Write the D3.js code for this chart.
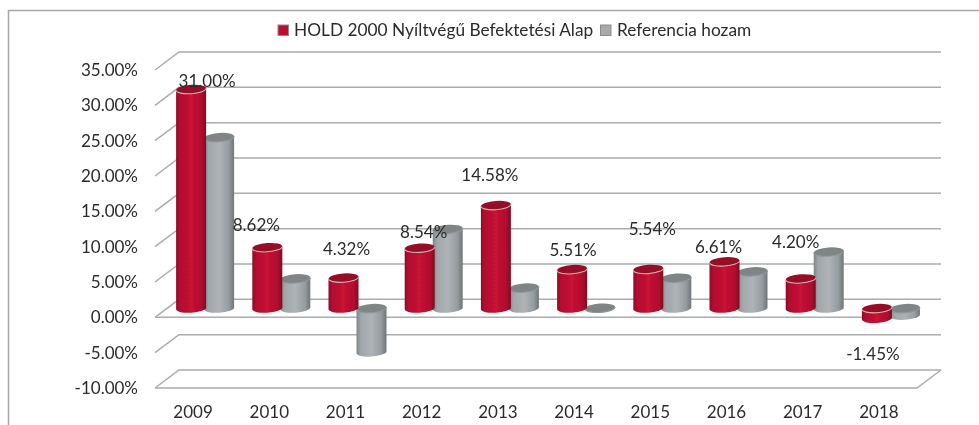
<!DOCTYPE html>
<html>
<head>
<meta charset="utf-8">
<script src="https://cdn.jsdelivr.net/npm/d3@7"></script>
<style>
    html, body { margin: 0; padding: 0; background: #fff; }
    svg { display: block; }
    text { font-family: Lato, "Open Sans", sans-serif; fill: #2b2b2b; }
</style>
</head>
<body>
<div id="chart"></div>
<script>
// values
const years = ["2009", "2010", "2011", "2012", "2013", "2014", "2015", "2016", "2017", "2018"];
const holdValues = [31.00, 8.62, 4.32, 8.54, 14.58, 5.51, 5.54, 6.61, 4.20, -1.45];
const refValues = [24.2, 4.2, -6.2, 11.2, 2.9, 0.05, 4.3, 5.2, 8.0, -1.0];
const valueTicks = [-10, -5, 0, 5, 10, 15, 20, 25, 30, 35];
const seriesNames = ["HOLD 2000 Nyíltvégű Befektetési Alap", "Referencia hozam"];

const width = 979, height = 425;

const svg = d3.select("#chart").append("svg")
    .attr("width", width)
    .attr("height", height);

const defs = svg.append("defs");

// the reference is a soft, slightly blurred image
defs.append("filter").attr("id", "soft")
    .append("feGaussianBlur").attr("stdDeviation", 0.45);

// side shading of the cylinders
function cylinderGradient(id, stops) {
    const g = defs.append("linearGradient").attr("id", id);
    stops.forEach(s => g.append("stop").attr("offset", s[0]).attr("stop-color", s[1]));
}
cylinderGradient("redSide", [[0, "#8c0a26"], [0.12, "#b20f30"], [0.5, "#c61234"], [0.85, "#b00e2e"], [1, "#7d0a22"]]);
cylinderGradient("greySide", [[0, "#7f8587"], [0.15, "#a0a6a9"], [0.5, "#adb3b6"], [0.82, "#969c9f"], [1, "#6f7577"]]);

const root = svg.append("g").attr("filter", "url(#soft)");

// outer frame: only left and top show, both run off the picture
root.append("path")
    .attr("d", `M8.5,${height} V10.5 H${width + 2}`)
    .attr("fill", "none")
    .attr("stroke", "#a6a6a6")
    .attr("stroke-width", 1.5);

// scales for the front plane of the 3D box
const plotLeft = 155, plotRight = 917;
const depthX = 24, depthY = -18;

const x = d3.scaleBand().domain(years).range([plotLeft, plotRight]);
const y = d3.scaleLinear().domain([-10, 35]).range([388, 70]);

// grid lines: side wall and back wall
const grid = root.append("g")
    .attr("fill", "none")
    .attr("stroke", "#a9adad")
    .attr("stroke-width", 1.5);

grid.selectAll("path")
    .data(valueTicks)
    .enter().append("path")
    .attr("d", d => {
        const yy = y(d);
        return `M${plotLeft},${yy} L${plotLeft + depthX},${yy + depthY} H${plotRight + depthX}`;
    });

// floor of the box
grid.append("path")
    .attr("d", `M${plotLeft},${y(-10)} H${plotRight} L${plotRight + depthX},${y(-10) + depthY}`);
grid.append("path")
    .attr("d", `M${plotLeft},${y(0)} H${plotRight}`);

// value axis labels
root.append("g").selectAll("text")
    .data(valueTicks)
    .enter().append("text")
    .attr("x", 138)
    .attr("y", d => y(d))
    .attr("dy", "0.35em")
    .attr("text-anchor", "end")
    .attr("font-size", 17)
    .text(d => percent(d));

// year labels
root.append("g").selectAll("text")
    .data(years)
    .enter().append("text")
    .attr("x", d => x(d) + x.bandwidth() / 2)
    .attr("y", 412)
    .attr("dy", "0.35em")
    .attr("text-anchor", "middle")
    .attr("font-size", 17)
    .text(d => d);

// plain hyphen for negatives, like the original
function percent(v) {
    return v.toFixed(2) + "%";
}

// cylinders stand in the middle of the box depth
const barDepthX = depthX / 2, barDepthY = depthY / 2;
const barR = 15, barRy = 4.4, tilt = 1, tiltDeg = -4;
const barGap = 14;

function drawCylinder(g, cx, value, side, topFill, rim) {
    const y0 = y(0) + barDepthY;
    const y1 = y(value) + barDepthY;
    const upper = Math.min(y0, y1), lower = Math.max(y0, y1);
    const xl = cx - barR, xr = cx + barR;
    const arc = `A${barR},${barRy} ${tiltDeg}`;
    // body
    g.append("path")
        .attr("d", `M${xl},${upper + tilt} V${lower + tilt} ${arc} 0 0 ${xr},${lower - tilt} V${upper - tilt} ${arc} 0 1 ${xl},${upper + tilt} Z`)
        .attr("fill", `url(#${side})`);
    // top ellipse, a little tilted
    g.append("path")
        .attr("d", `M${xl},${upper + tilt} ${arc} 0 1 ${xr},${upper - tilt} ${arc} 0 1 ${xl},${upper + tilt} Z`)
        .attr("fill", topFill);
    // pale rim along the near edge of the top
    g.append("path")
        .attr("d", `M${xl},${upper + tilt} ${arc} 0 0 ${xr},${upper - tilt}`)
        .attr("fill", "none")
        .attr("stroke", rim)
        .attr("stroke-width", 1.1);
}

const bars = root.append("g");
years.forEach((yr, i) => {
    const center = x(yr) + x.bandwidth() / 2 + barDepthX;
    const g = bars.append("g");
    // the grey one sits behind the red one
    drawCylinder(g, center + barGap, refValues[i], "greySide", "#7f8585", "#8f9596");
    drawCylinder(g, center - barGap, holdValues[i], "redSide", "#950b28", "#cdb4ac");
});

// data labels were moved by hand in the original, so they need a nudge from the bar top
const labelNudge = [[16, -8], [-11, -22], [3, -29], [4, -16], [-6, -30], [1, -19], [4, -40], [-6, -15], [-5, -37], [-4, 35]];

root.append("g").selectAll("text")
    .data(holdValues)
    .enter().append("text")
    .attr("x", (d, i) => x(years[i]) + x.bandwidth() / 2 + barDepthX - barGap + labelNudge[i][0])
    .attr("y", (d, i) => y(d) + barDepthY + labelNudge[i][1])
    .attr("dy", "0.35em")
    .attr("text-anchor", "middle")
    .attr("font-size", 17)
    .text(d => percent(d));

// legend
const legend = root.append("g");
const legendItems = [
    { name: seriesNames[0], fill: "#c0102f", box: 278, text: 294 },
    { name: seriesNames[1], fill: "#a6acae", box: 600.5, text: 617 }
];
legendItems.forEach(d => {
    legend.append("rect")
        .attr("x", d.box).attr("y", 25)
        .attr("width", 10.5).attr("height", 10.5)
        .attr("fill", d.fill)
        .attr("stroke", "#8c8c8c")
        .attr("stroke-width", 1);
    legend.append("text")
        .attr("x", d.text).attr("y", 30)
        .attr("dy", "0.35em")
        .attr("font-size", 17.3)
        .text(d.name);
});
</script>
</body>
</html>
